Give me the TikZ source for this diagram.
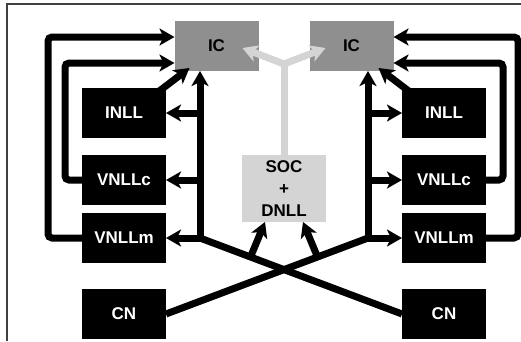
\documentclass[tikz,border=0pt]{standalone}
\usepackage{fontspec}
\setmainfont{Liberation Sans}
\usetikzlibrary{arrows.meta,calc}
\definecolor{icgray}{RGB}{143,143,143}
\definecolor{socgray}{RGB}{212,212,212}

\begin{document}
\begin{tikzpicture}[x=1pt,y=-1pt,line width=7pt,>={Stealth[length=15pt,width=17pt,inset=4pt]},
  blk/.style={fill=black,text=white,minimum width=84pt,minimum height=50pt,inner sep=0pt,outer sep=0pt,font=\fontsize{17}{22}\selectfont\bfseries},
  icbox/.style={blk,fill=icgray,text=black},
  socbox/.style={blk,fill=socgray,text=black,minimum height=67pt,align=center},
  socline/.style={socgray,line width=7pt}]
  \useasboundingbox (0,0) rectangle (521,341);
  \draw[line width=1.2pt,black!75] (7,341) -- (7,4) -- (521,4);
  \node[icbox] (icL) at (216.5,46){IC};
  \node[icbox] (icR) at (351.5,46){IC};
  \node[blk] (inllL) at (124,113){INLL};
  \node[blk] (vnllcL) at (124,180){VNLLc};
  \node[blk] (vnllmL) at (124,238){VNLLm};
  \node[blk] (cnL) at (124,314){CN};
  \node[blk] (inllR) at (444,113){INLL};
  \node[blk] (vnllcR) at (444,180){VNLLc};
  \node[blk] (vnllmR) at (444,238){VNLLm};
  \node[blk] (cnR) at (444,314){CN};
  \node[socbox] (soc) at (284,188.5){SOC\\+\\DNLL};
  \coordinate (tL) at (200,238);
  \coordinate (tR) at (368,238);
  \coordinate (fork) at (284,64);
  \draw[socline] (soc.north) -- (fork);
  \draw[socline,<->] ($(icL.east)+(-16,2)$) -- (fork) -- ($(icR.west)+(16,2)$);
  \draw[->] (tL) -- (tL |- icL.south);
  \draw[->] (tL |- inllL) -- (inllL.east);
  \draw[->] (tL |- vnllcL) -- (vnllcL.east);
  \draw[->] (tL) -- (vnllmL.east);
  \draw[->] (tR) -- (tR |- icR.south);
  \draw[->] (tR |- inllR) -- (inllR.west);
  \draw[->] (tR |- vnllcR) -- (vnllcR.west);
  \draw[->] (tR) -- (vnllmR.west);
  \draw[->,rounded corners=4pt] (vnllmL.west) -- ++(-34,0) |- ($(icL.west)+(0,-9)$);
  \draw[->,rounded corners=4pt] (vnllcL.west) -- ++(-17,0) |- ($(icL.west)+(0,17)$);
  \draw[->,rounded corners=4pt] (vnllmR.east) -- ++(32,0) |- ($(icR.east)+(0,-9)$);
  \draw[->,rounded corners=4pt] (vnllcR.east) -- ++(17,0) |- ($(icR.east)+(0,17)$);
  \draw[->] ($(inllL.north east)+(-8,4)$) -- ($(icL.south west)+(15,-3)$);
  \draw[->] ($(inllR.north west)+(8,4)$) -- ($(icR.south east)+(-15,-3)$);
  \draw (tL) -- (cnR.west);
  \draw (tR) -- (cnL.east);
  \draw[->] ($(tL)!0.25!(cnR.west)$) -- ($(soc.south)+(-19,0)$);
  \draw[->] ($(tR)!0.25!(cnL.east)$) -- ($(soc.south)+(19,0)$);
\end{tikzpicture}
\end{document}
